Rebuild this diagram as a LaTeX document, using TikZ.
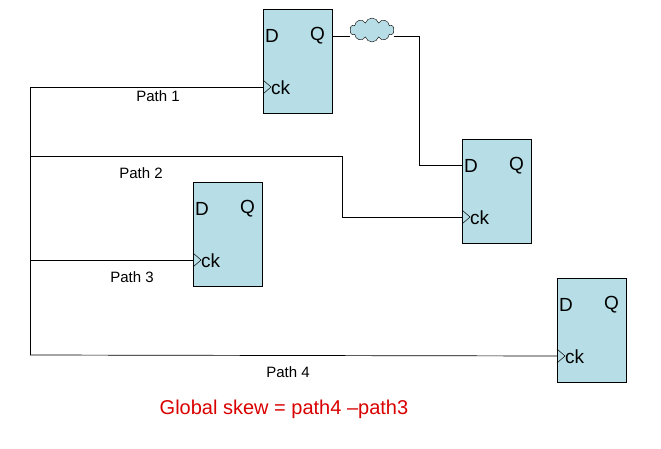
\documentclass[tikz,border=0pt]{standalone}
\usepackage{fontspec}
\setmainfont{Liberation Sans}
\usetikzlibrary{shapes.symbols}
\definecolor{ff}{RGB}{183,222,230}
\begin{document}
\begin{tikzpicture}[x=1pt,y=-1pt,
  ffbox/.style={draw,fill=ff,minimum width=69pt,minimum height=104pt,inner sep=0pt},
  pin/.style={font=\fontsize{19}{19}\selectfont,inner sep=0pt},
  lbl/.style={font=\fontsize{15}{15}\selectfont,inner sep=0pt},
  wire/.style={draw,line width=0.7pt}]
\useasboundingbox (0,0) rectangle (661,449);
\newcommand{\ff}[3]{%
  \node[ffbox,anchor=north west] (#1) at (#2,#3) {};
  \node[pin] (#1D) at ([xshift=9pt,yshift=-27pt]#1.north west) {D};
  \node[pin] (#1Q) at ([xshift=-15pt,yshift=-27pt]#1.north east) {Q};
  \coordinate (#1ck) at ([yshift=-78pt]#1.north west);
  \coordinate (#1q) at ([yshift=-27pt]#1.north east);
  \coordinate (#1d) at ([yshift=-26pt]#1.north west);
  \node[pin,anchor=west] (#1ckl) at ([xshift=8pt,yshift=-1pt]#1ck) {ck};
  \draw[line width=0.5pt] ([yshift=7pt]#1ck) -- ([xshift=8pt]#1ck) -- ([yshift=-7pt]#1ck);
}
\ff{A}{263}{9}
\ff{B}{462}{139}
\ff{C}{193}{182}
\ff{E}{557}{278}
\node[cloud,draw,fill=ff,cloud puffs=10,minimum width=44pt,minimum height=24pt,inner sep=0pt] (cl) at (372,30) {};
\coordinate (j1) at (30,87);
\coordinate (j4) at (30,355);
\draw[wire] (j1) -- (j4);
\draw[wire] (j1) -- (Ack);
\draw[wire] (30,156) coordinate (j2) -- (342,156) -- (342,217) -- (Bck);
\draw[wire] (30,260) coordinate (j3) -- (Cck);
\draw[wire] (j4) -- (Eck);
\draw[wire] (Aq) -- (cl.west |- Aq);
\draw[wire] (cl.east |- Aq) -- (419,36) -- (419,165) -- (Bd);
\node[lbl] (p1) at (158,96) {Path 1};
\node[lbl] (p2) at (141,173) {Path 2};
\node[lbl] (p3) at (132,277) {Path 3};
\node[lbl] (p4) at (288,372) {Path 4};
\node[font=\fontsize{20}{20}\selectfont,text=red!85!black,inner sep=0pt] (gs) at (284,409) {Global skew = path4 –path3};
\end{tikzpicture}
\end{document}
